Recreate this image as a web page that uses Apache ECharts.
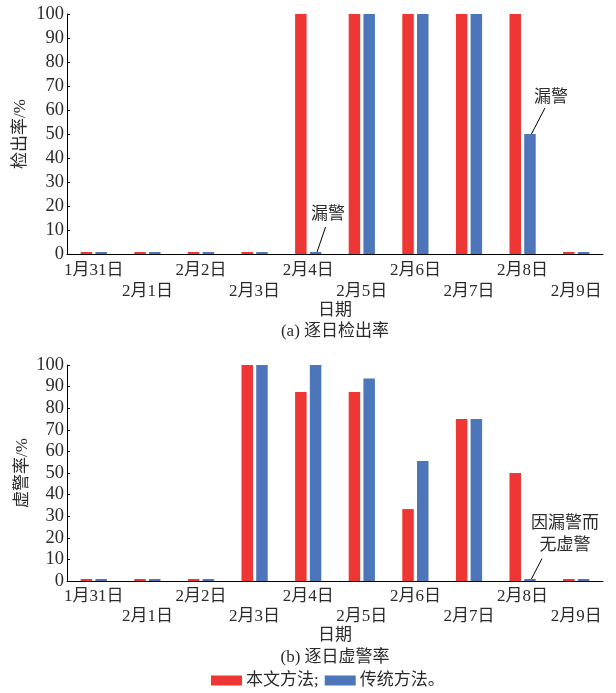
<!DOCTYPE html>
<html>
<head>
<meta charset="utf-8">
<title>逐日检出率与虚警率</title>
<script src="https://cdn.jsdelivr.net/npm/echarts@6/dist/echarts.min.js"></script>
<style>
  html, body { margin: 0; padding: 0; background: #fff; }
  #chart { width: 616px; height: 693px; }
</style>
</head>
<body>
<div id="chart"></div>
<script>
// Dates on the horizontal axis
const dates = ['1月31日', '2月1日', '2月2日', '2月3日', '2月4日', '2月5日', '2月6日', '2月7日', '2月8日', '2月9日'];

// (a) daily detection rate, %
const detectOurs = [0, 0, 0, 0, 100, 100, 100, 100, 100, 0];
const detectTraditional = [0, 0, 0, 0, 0, 100, 100, 100, 50, 0];

// (b) daily false alarm rate, %
const falseOurs = [0, 0, 0, 100, 87.5, 87.5, 33.3, 75, 50, 0];
const falseTraditional = [0, 0, 0, 100, 100, 93.8, 55.6, 75, 0, 0];

// y-axis range and step shared by both panels
const yMin = 0, yMax = 100, yStep = 10;

const seriesNames = ['本文方法', '传统方法'];
const colors = ['#EE3634', '#4D75BA'];

const serif = '"Liberation Serif", "Noto Sans CJK SC", serif';
const textColor = '#2b2b2b';
const fontSize = 17;

const chart = echarts.init(document.getElementById('chart'), null, { renderer: 'canvas' });

function xAxisFor(gridIndex, lineHeight, nameGap) {
  return {
    type: 'category',
    gridIndex: gridIndex,
    data: dates,
    name: '日期',
    nameLocation: 'middle',
    nameGap: nameGap,
    nameMoveOverlap: false,
    nameTextStyle: { fontFamily: serif, fontSize: fontSize, color: textColor },
    axisLine: { lineStyle: { color: '#000', width: 1 } },
    axisTick: { inside: true, length: 4, lineStyle: { color: '#000' } },
    axisLabel: {
      interval: 0,
      margin: 6,
      fontFamily: serif,
      fontSize: fontSize,
      color: textColor,
      lineHeight: lineHeight,
      formatter: (v, i) => (i % 2 === 1 ? '\n' + v : v)
    },
    splitLine: { show: false }
  };
}

function yAxisFor(gridIndex, name, nameGap) {
  return {
    type: 'value',
    gridIndex: gridIndex,
    min: yMin,
    max: yMax,
    interval: yStep,
    name: name,
    nameLocation: 'middle',
    nameRotate: 90,
    nameGap: nameGap,
    nameMoveOverlap: false,
    nameTextStyle: { fontFamily: serif, fontSize: fontSize, color: textColor },
    axisLine: { show: true, lineStyle: { color: '#000', width: 1 } },
    axisTick: { show: true, inside: true, length: 3, lineStyle: { color: '#000' } },
    axisLabel: { margin: 3, fontFamily: serif, fontSize: 18.5, color: textColor },
    splitLine: { show: false }
  };
}

function barSeries(name, data, axisIndex, color) {
  return {
    name: name,
    type: 'bar',
    xAxisIndex: axisIndex,
    yAxisIndex: axisIndex,
    data: data,
    barWidth: 11.5,
    barGap: '28%',
    barMinHeight: 2,
    itemStyle: { color: color },
    emphasis: { disabled: true },
    animation: false
  };
}

chart.setOption({
  animation: false,
  grid: [
    { left: 67, right: 13, top: 14, height: 240 },
    { left: 67, right: 13, top: 365, height: 216 }
  ],
  xAxis: [xAxisFor(0, 21, 48), xAxisFor(1, 19.5, 46)],
  yAxis: [yAxisFor(0, '检出率/%', 38), yAxisFor(1, '虚警率/%', 36)],
  legend: {
    left: 211,
    top: 672,
    padding: 0,
    itemWidth: 31,
    itemHeight: 10,
    itemGap: 6,
    icon: 'rect',
    selectedMode: false,
    data: seriesNames,
    formatter: n => (n === seriesNames[0] ? n + ';' : n + '。'),
    textStyle: { fontFamily: serif, fontSize: fontSize, color: textColor, padding: [0, 0, 0, -1] }
  },
  series: [
    barSeries(seriesNames[0], detectOurs, 0, colors[0]),
    barSeries(seriesNames[1], detectTraditional, 0, colors[1]),
    barSeries(seriesNames[0], falseOurs, 1, colors[0]),
    barSeries(seriesNames[1], falseTraditional, 1, colors[1])
  ]
});

// Callouts pointing at individual traditional-method bars:
// [seriesIndex, dataIndex, text lines, line end offset (dx, dy), text centre offset (dx, dy)]
const callouts = [
  [1, 4, ['漏警'], [10, -25], [12.5, -37]],
  [1, 8, ['漏警'], [15, -26], [21, -36]],
  [3, 8, ['因漏警而', '无虚警'], [12, -20.5], [35, -44]]
];

const graphics = [];
callouts.forEach(([si, di, lines, lineEnd, textOff]) => {
  const layout = chart.getModel().getSeriesByIndex(si).getData().getItemLayout(di);
  const bx = layout.x + layout.width / 2;
  const by = layout.y + layout.height;
  graphics.push({
    type: 'line',
    shape: { x1: bx + 1.5, y1: by, x2: bx + lineEnd[0], y2: by + lineEnd[1] },
    style: { stroke: '#000', lineWidth: 1 },
    silent: true
  });
  graphics.push({
    type: 'text',
    x: bx + textOff[0],
    y: by + textOff[1],
    style: {
      text: lines.join('\n'),
      fontFamily: serif,
      fontSize: fontSize,
      lineHeight: 22,
      fill: textColor,
      align: 'center',
      verticalAlign: 'middle'
    },
    silent: true
  });
});

// Panel captions under each chart
const captions = [['(a) 逐日检出率', 332], ['(b) 逐日虚警率', 658]];
captions.forEach(([t, y]) => {
  graphics.push({
    type: 'text',
    x: 335,
    y: y,
    style: {
      text: t,
      fontFamily: serif,
      fontSize: fontSize,
      fill: textColor,
      align: 'center',
      verticalAlign: 'middle'
    },
    silent: true
  });
});

chart.setOption({ graphic: graphics });
</script>
</body>
</html>
